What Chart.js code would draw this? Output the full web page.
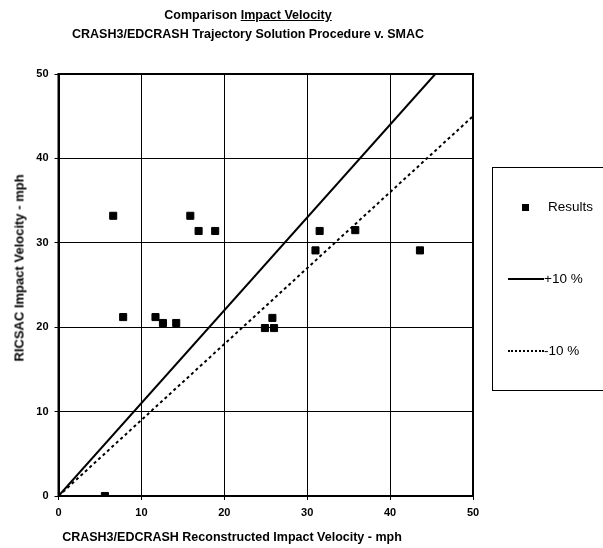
<!DOCTYPE html>
<html>
<head>
<meta charset="utf-8">
<script src="https://cdn.jsdelivr.net/npm/chart.js@4"></script>
<style>
  body { margin: 0; background: #fff; font-family: "Liberation Sans", Arial, sans-serif; }
  #wrap { position: relative; width: 603px; height: 548px; }
  canvas { position: absolute; left: 0; top: 0; }
  .title { position: absolute; left: 0; width: 496px; text-align: center; font-weight: bold; font-size: 12.5px; color: #000; }
  .xTitle { position: absolute; left: 0; width: 464px; top: 530px; text-align: center; font-weight: bold; font-size: 12.5px; }
  .yTitle { position: absolute; left: 19px; top: 268px; font-weight: bold; font-size: 13px; white-space: nowrap;
            transform: translate(-50%, -50%) rotate(-90deg); }
  .legend { position: absolute; left: 492px; top: 167px; width: 120px; height: 222px; border: 1px solid #000; }
  .legend .item { position: absolute; font-size: 13.5px; color: #000; line-height: 16px; }
</style>
</head>
<body>
<div id="wrap">
  <canvas id="chart" width="603" height="548"></canvas>
  <div class="title" style="top:8px">Comparison <u>Impact Velocity</u></div>
  <div class="title" style="top:27px">CRASH3/EDCRASH Trajectory Solution Procedure v. SMAC</div>
  <div class="xTitle">CRASH3/EDCRASH Reconstructed Impact Velocity - mph</div>
  <div class="yTitle">RICSAC Impact Velocity - mph</div>
  <div class="legend">
    <div class="item" style="left:29px;top:36px;width:7px;height:7px;background:#000"></div>
    <div class="item" style="left:55px;top:31px">Results</div>
    <div class="item" style="left:15px;top:110px;width:36px;border-top:2px solid #000"></div>
    <div class="item" style="left:51px;top:103px">+10 %</div>
    <div class="item" style="left:15px;top:182px;width:36px;border-top:2px dotted #000"></div>
    <div class="item" style="left:51px;top:175px">-10 %</div>
  </div>
</div>
<script>
// measured results (x = CRASH3/EDCRASH, y = RICSAC), mph
const resultsX = [6.6, 15.9, 16.9, 18.9, 7.8, 11.7, 12.6, 14.2, 31.5, 35.8, 31.0, 43.6, 25.8, 24.9, 26.0, 5.6];
const resultsY = [33.2, 33.2, 31.4, 31.4, 21.2, 21.2, 20.5, 20.5, 31.4, 31.5, 29.1, 29.1, 21.1, 19.9, 19.9, 0];

// +10 % and -10 % reference lines (end points)
const plusX = [0, 45.45];
const plusY = [0, 50];
const minusX = [0, 50];
const minusY = [0, 45];

const xTicks = [0, 10, 20, 30, 40, 50];
const yTicks = [0, 10, 20, 30, 40, 50];

function pairs(xs, ys) {
  return xs.map((x, i) => ({ x: x, y: ys[i] }));
}

const tickFont = { family: "Liberation Sans", size: 11, weight: "bold" };

new Chart(document.getElementById("chart"), {
  type: "scatter",
  data: {
    datasets: [
      {
        label: "Results",
        data: pairs(resultsX, resultsY),
        pointStyle: "rect",
        pointRadius: 5,
        backgroundColor: "#000",
        borderColor: "#000",
        showLine: false
      },
      {
        label: "+10 %",
        data: pairs(plusX, plusY),
        showLine: true,
        borderColor: "#000",
        borderWidth: 2,
        pointRadius: 0
      },
      {
        label: "-10 %",
        data: pairs(minusX, minusY),
        showLine: true,
        borderColor: "#000",
        borderWidth: 2,
        borderDash: [3, 3],
        pointRadius: 0
      }
    ]
  },
  options: {
    responsive: false,
    animation: false,
    layout: { padding: { left: 20, top: 74, right: 130, bottom: 22 } },
    plugins: { legend: { display: false }, tooltip: { enabled: false } },
    scales: {
      x: {
        type: "linear",
        min: 0,
        max: 50,
        afterBuildTicks: (s) => { s.ticks = xTicks.map(v => ({ value: v })); },
        afterFit: (s) => { s.height = 30; },
        grid: { color: "#000", lineWidth: 1, tickLength: 4, drawTicks: true },
        border: { color: "#000", width: 2 },
        ticks: { color: "#000", font: tickFont, padding: 6 }
      },
      y: {
        type: "linear",
        min: 0,
        max: 50,
        afterBuildTicks: (s) => { s.ticks = yTicks.map(v => ({ value: v })); },
        afterFit: (s) => { s.width = 38.5; },
        grid: { color: "#000", lineWidth: 1, tickLength: 4, drawTicks: true },
        border: { color: "#000", width: 2 },
        ticks: { color: "#000", font: tickFont, padding: 6 }
      }
    }
  },
  plugins: [{
    id: "frame",
    afterDraw(chart) {
      const a = chart.chartArea, ctx = chart.ctx;
      ctx.save();
      ctx.strokeStyle = "#000";
      ctx.lineWidth = 2;
      ctx.strokeRect(a.left, a.top, a.right - a.left, a.bottom - a.top);
      ctx.restore();
    }
  }]
});
</script>
</body>
</html>
